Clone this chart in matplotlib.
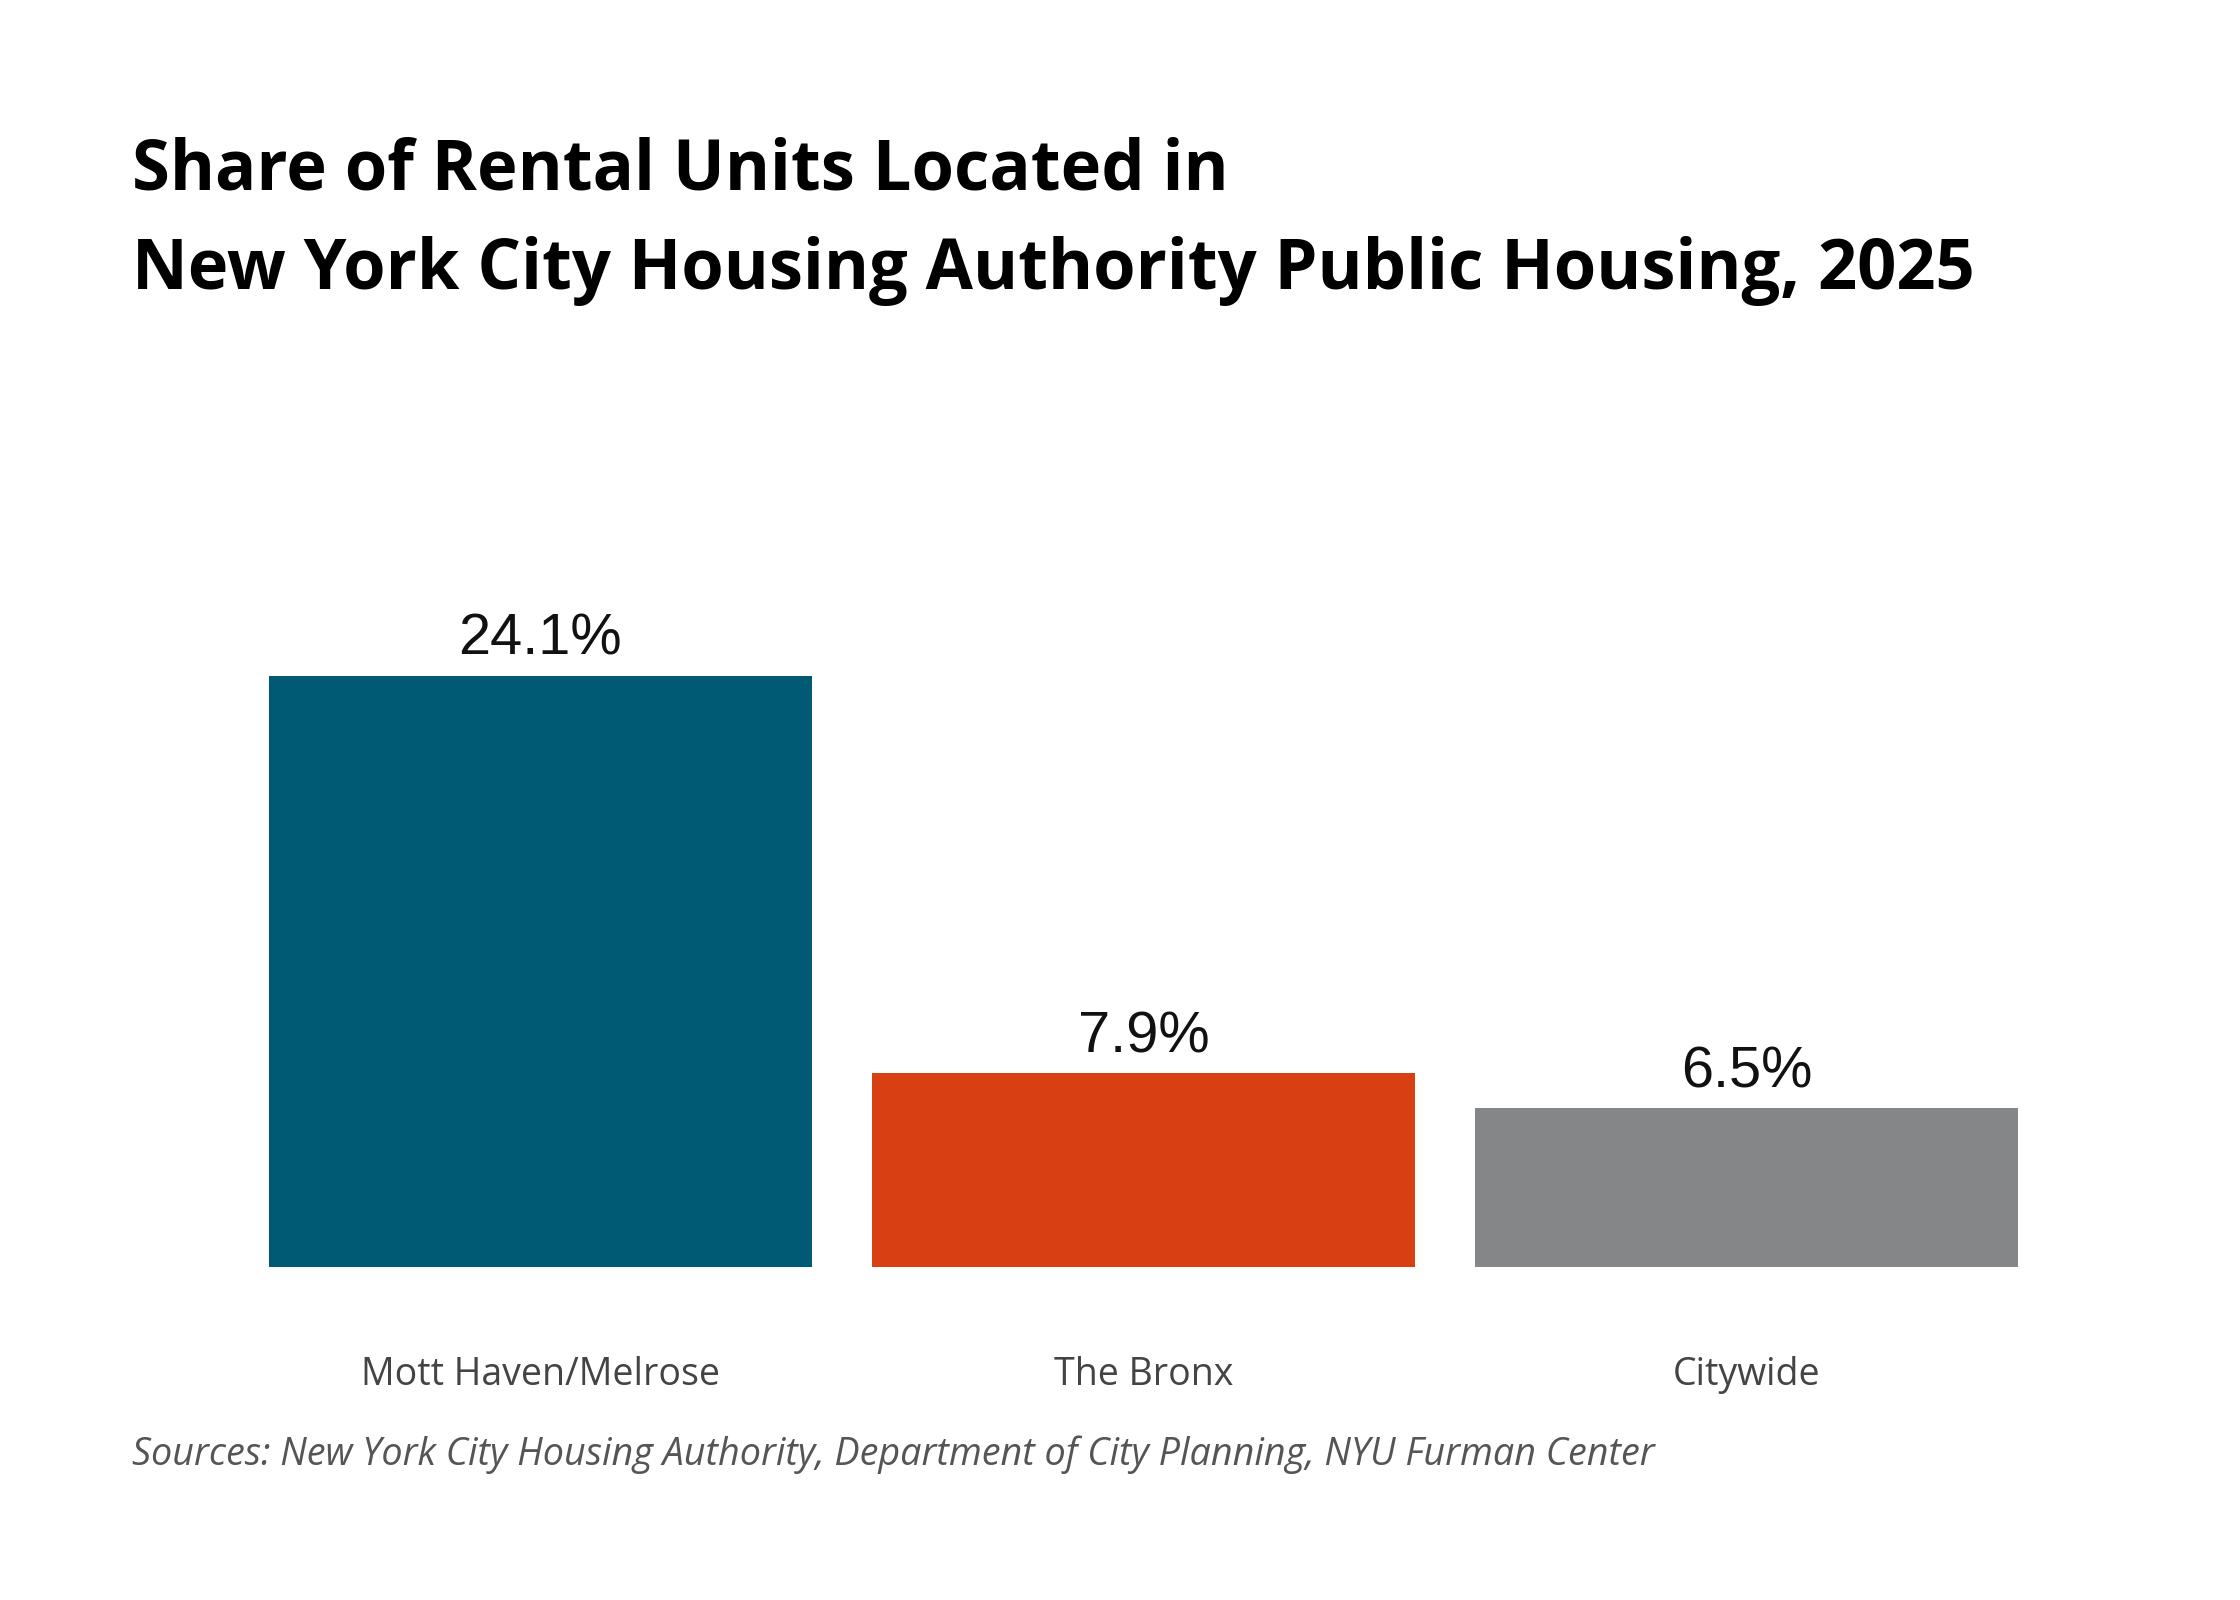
import matplotlib
matplotlib.use("Agg")
import matplotlib.pyplot as plt

categories = ["Mott Haven/Melrose", "The Bronx", "Citywide"]
values = [24.1, 7.9, 6.5]
value_labels = ["24.1%", "7.9%", "6.5%"]
colors = ["#005a74", "#d84013", "#858687"]

title = "Share of Rental Units Located in\nNew York City Housing Authority Public Housing, 2025"
source = "Sources: New York City Housing Authority, Department of City Planning, NYU Furman Center"

fig = plt.figure(figsize=(11.2, 8), dpi=200)
ax = fig.add_axes([0.1065, 0.208, 0.808, 0.445])
x = list(range(len(categories)))
bars = ax.bar(x, values, width=0.9, color=colors)
ax.set_xlim(-0.5, 2.5)
ax.set_ylim(0, 29)
for xi, v, lab in zip(x, values, value_labels):
    ax.text(xi, v + 0.35, lab, ha="center", va="bottom", fontsize=20.8,
            family="Liberation Sans", color="#111111")
ax.set_xticks(x)
ax.set_xticklabels(categories, fontsize=13.5, color="#444444", family="Open Sans")
ax.tick_params(axis="x", length=0, pad=32)
ax.set_yticks([])
for s in ax.spines.values():
    s.set_visible(False)

fig.text(0.059, 0.915, title, ha="left", va="top", fontsize=24.7, fontweight="bold",
         family="Open Sans", color="#000000", linespacing=1.57)
fig.text(0.059, 0.091, source, ha="left", va="center", fontsize=13.6, style="italic",
         family="Open Sans", color="#555555")

fig.savefig("out.png", dpi=200)
